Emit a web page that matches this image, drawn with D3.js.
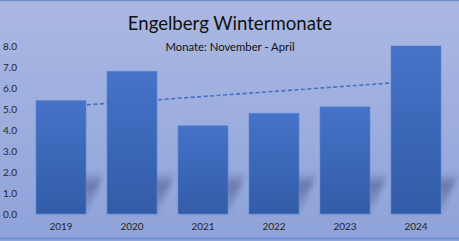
<!DOCTYPE html>
<html>
<head>
<meta charset="utf-8">
<script src="https://cdn.jsdelivr.net/npm/d3@7"></script>
<style>
  html, body { margin: 0; padding: 0; background: #a3b3e0; }
  svg { display: block; font-family: Lato, "Noto Sans", sans-serif; }
</style>
</head>
<body>
<div id="chart"></div>
<script>
const years = ['2019', '2020', '2021', '2022', '2023', '2024'];
const values = [5.4, 6.8, 4.2, 4.8, 5.1, 8.0];
const yTicks = [0, 1, 2, 3, 4, 5, 6, 7, 8];

const W = 459, H = 241;
const base = 214, top8 = 46;

const svg = d3.select('#chart').append('svg')
  .attr('width', W)
  .attr('height', H);

const defs = svg.append('defs');

const bg = defs.append('linearGradient').attr('id', 'bg')
  .attr('x1', 0).attr('y1', 0).attr('x2', 0).attr('y2', 1);
bg.append('stop').attr('offset', '0%').attr('stop-color', '#abb8e2');
bg.append('stop').attr('offset', '100%').attr('stop-color', '#8ea3da');

const barGrad = defs.append('linearGradient').attr('id', 'barGrad')
  .attr('x1', 0).attr('y1', 0).attr('x2', 0).attr('y2', 1);
barGrad.append('stop').attr('offset', '0%').attr('stop-color', '#4473c8');
barGrad.append('stop').attr('offset', '100%').attr('stop-color', '#335ca8');

const shGrad = defs.append('linearGradient').attr('id', 'shGrad')
  .attr('x1', 0).attr('y1', 1).attr('x2', 0).attr('y2', 0);
shGrad.append('stop').attr('offset', '0%').attr('stop-color', '#2a3560').attr('stop-opacity', 0.1);
shGrad.append('stop').attr('offset', '70%').attr('stop-color', '#2a3560').attr('stop-opacity', 0.4);
shGrad.append('stop').attr('offset', '100%').attr('stop-color', '#2a3560').attr('stop-opacity', 0);

defs.append('filter').attr('id', 'blur')
  .attr('x', '-50%').attr('y', '-50%').attr('width', '200%').attr('height', '200%')
  .append('feGaussianBlur').attr('stdDeviation', 2.5);

// background + border lines
svg.append('rect').attr('width', W).attr('height', H).attr('fill', 'url(#bg)');
svg.append('line').attr('x1', 0).attr('x2', W).attr('y1', 0.5).attr('y2', 0.5)
  .attr('stroke', '#6f8fd3').attr('stroke-width', 1.5);
svg.append('line').attr('x1', 0).attr('x2', W).attr('y1', 238.5).attr('y2', 238.5)
  .attr('stroke', '#6a8bd4').attr('stroke-width', 1.5);

const x = d3.scaleBand().domain(years).range([25.5, 451.5]).paddingInner(0.296).paddingOuter(0.148);
const y = d3.scaleLinear().domain([0, 8]).range([base, top8]);

// title
svg.append('text')
  .attr('x', 230).attr('y', 30)
  .attr('text-anchor', 'middle')
  .attr('font-size', 18.6)
  .attr('fill', '#111')
  .text('Engelberg Wintermonate');
svg.append('text')
  .attr('x', 230).attr('y', 51)
  .attr('text-anchor', 'middle')
  .attr('font-size', 11.3)
  .attr('fill', '#111')
  .text('Monate: November - April');

// y axis labels
const yAxis = svg.append('g')
  .attr('transform', 'translate(3,0)')
  .call(d3.axisLeft(y).tickValues(yTicks).tickFormat(d3.format('.1f')).tickSize(0));
yAxis.select('.domain').remove();
yAxis.selectAll('text')
  .attr('text-anchor', 'start')
  .attr('x', 0)
  .attr('font-family', 'Lato, "Noto Sans", sans-serif')
  .attr('font-size', 10)
  .attr('fill', '#262626');

// x axis labels
const xAxis = svg.append('g')
  .attr('transform', `translate(0,${base})`)
  .call(d3.axisBottom(x).tickSize(0).tickPadding(9));
xAxis.select('.domain').remove();
xAxis.selectAll('text')
  .attr('font-family', 'Lato, "Noto Sans", sans-serif')
  .attr('font-size', 10)
  .attr('fill', '#262626');

// perspective shadows
const dx = 19, sh = 42;
svg.append('g').attr('filter', 'url(#blur)')
  .selectAll('polygon')
  .data(years)
  .join('polygon')
  .attr('points', d => {
    const x0 = x(d), x1 = x(d) + x.bandwidth();
    return [[x0, base], [x1, base], [x1 + dx, base - sh], [x0 + dx, base - sh]].join(' ');
  })
  .attr('fill', 'url(#shGrad)');

// linear trend line
const idx = years.map((d, i) => i);
const mx = d3.mean(idx), my = d3.mean(values);
const slope = d3.sum(idx, i => (i - mx) * (values[i] - my)) / d3.sum(idx, i => (i - mx) ** 2);
const trend = i => my + slope * (i - mx);
const c = d => x(d) + x.bandwidth() / 2;
svg.append('line')
  .attr('x1', c(years[0])).attr('y1', y(trend(0)))
  .attr('x2', c(years[years.length - 1])).attr('y2', y(trend(years.length - 1)))
  .attr('stroke', '#4472c4')
  .attr('stroke-width', 1.6)
  .attr('stroke-dasharray', '4 2.5');

// bars
svg.append('g').selectAll('rect')
  .data(values)
  .join('rect')
  .attr('x', (d, i) => x(years[i]))
  .attr('y', d => y(d))
  .attr('width', x.bandwidth())
  .attr('height', d => base - y(d))
  .attr('fill', 'url(#barGrad)')
  .attr('stroke', '#5a84d0')
  .attr('stroke-width', 0.6);
</script>
</body>
</html>
